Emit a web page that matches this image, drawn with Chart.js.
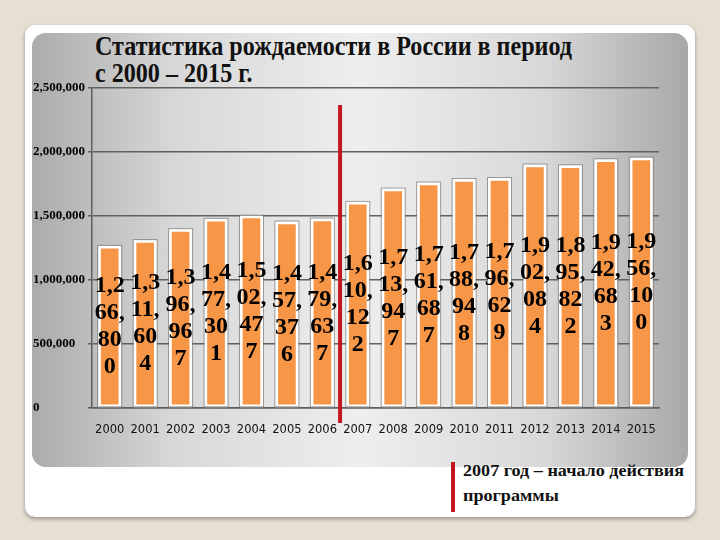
<!DOCTYPE html>
<html>
<head>
<meta charset="utf-8">
<script src="https://cdn.jsdelivr.net/npm/chart.js@4.4.1/dist/chart.umd.min.js"></script>
<style>
  html, body { margin: 0; padding: 0; }
  body { width: 720px; height: 540px; background: #e6dfd4; position: relative; overflow: hidden; }
  .card { position: absolute; left: 25px; top: 25px; width: 670px; height: 492px; background: #fff;
          border-radius: 10px; box-shadow: 0 2px 4px rgba(0,0,0,0.35); }
  .panel { position: absolute; left: 32px; top: 33px; width: 656px; height: 434px; border-radius: 14px;
           background: linear-gradient(to right, #ababab 0%, #d8d8d8 22%, #eeeeee 50%, #d8d8d8 78%, #a8a8a8 100%); }
  #chart { position: absolute; left: 0; top: 0; }
  .title { position: absolute; left: 95px; top: 33px; font-family: "Liberation Serif", serif; font-weight: bold;
           font-size: 27px; line-height: 27px; color: #111; white-space: nowrap; transform-origin: 0 0; }
  .note-bar { position: absolute; left: 451px; top: 462px; width: 4px; height: 50px; background: #c0181e; }
  .note { position: absolute; left: 463px; top: 458px; font-family: "Liberation Serif", serif; font-weight: bold;
          font-size: 16px; line-height: 25px; color: #111; white-space: nowrap; transform-origin: 0 0; }
</style>
</head>
<body>
<div class="card"></div>
<div class="panel"></div>
<div class="title" id="title">Статистика рождаемости в России в период<br>с 2000 – 2015 г.</div>
<div class="note-bar"></div>
<div class="note" id="note">2007 год – начало действия<br>программы</div>
<canvas id="chart" width="720" height="540"></canvas>
<script>
var years = ['2000', '2001', '2002', '2003', '2004', '2005', '2006', '2007',
             '2008', '2009', '2010', '2011', '2012', '2013', '2014', '2015'];
var births = [1266800, 1311604, 1396967, 1477301, 1502477, 1457376, 1479637, 1610122,
              1713947, 1761687, 1788948, 1796629, 1902084, 1895822, 1942683, 1956100];
var yTicks = [0, 500000, 1000000, 1500000, 2000000, 2500000];
var programStart = '2007';

// squeeze the title text to the narrow look of the original
function fitWidth(id, target) {
    var el = document.getElementById(id);
    var w = el.getBoundingClientRect().width;
    el.style.transform = 'scaleX(' + (target / w) + ')';
}
fitWidth('title', 477);
fitWidth('note', 221);

function splitLabel(v) {
    var s = v.toLocaleString('en-US');
    return [s.slice(0, 3), s.slice(3, 6), s.slice(6, 8), s.slice(8)];
}

var barLabels = {
    id: 'barLabels',
    afterDatasetsDraw: function(chart) {
        var ctx = chart.ctx;
        var meta = chart.getDatasetMeta(0);
        ctx.save();
        // thin grey edge round each bar
        ctx.strokeStyle = 'rgba(90,90,90,0.55)';
        ctx.lineWidth = 1;
        meta.data.forEach(function(bar) {
            var w = bar.width;
            ctx.strokeRect(bar.x - w / 2 - 0.5, bar.y - 0.5, w + 1, bar.base - bar.y);
        });
        ctx.fillStyle = '#000';
        ctx.font = 'bold 24px "Liberation Serif", serif';
        ctx.textAlign = 'center';
        ctx.textBaseline = 'middle';
        meta.data.forEach(function(bar, i) {
            var lines = splitLabel(births[i]);
            var mid = (bar.y + bar.base) / 2;
            var lh = 27;
            var y0 = mid - (lines.length - 1) * lh / 2;
            lines.forEach(function(t, k) {
                ctx.fillText(t, bar.x, y0 + k * lh);
            });
        });
        ctx.restore();
    },
    afterDraw: function(chart) {
        // red marker between 2006 and 2007
        var x = chart.scales.x;
        var area = chart.chartArea;
        var i = years.indexOf(programStart);
        var px = (x.getPixelForValue(i - 1) + x.getPixelForValue(i)) / 2;
        var ctx = chart.ctx;
        ctx.save();
        ctx.strokeStyle = '#c0181e';
        ctx.lineWidth = 4;
        ctx.beginPath();
        ctx.moveTo(px, area.top + 17);
        ctx.lineTo(px, area.bottom + 15);
        ctx.stroke();
        ctx.restore();
    }
};

new Chart(document.getElementById('chart'), {
    type: 'bar',
    data: {
        labels: years,
        datasets: [{
            data: births,
            backgroundColor: '#f79646',
            borderColor: '#ffffff',
            borderWidth: 3,
            borderSkipped: false,
            barThickness: 23
        }]
    },
    options: {
        responsive: false,
        animation: false,
        layout: { padding: { left: 33, right: 61, top: 88, bottom: 107 } },
        plugins: { legend: { display: false }, tooltip: { enabled: false } },
        scales: {
            x: {
                grid: { display: false },
                border: { color: '#5e5e5e', width: 1.5 },
                ticks: { color: '#111', padding: 7, font: { family: 'DejaVu Sans', size: 11.5 } },
                afterFit: function(s) { s.height = 25; }
            },
            y: {
                min: 0,
                max: 2500000,
                afterBuildTicks: function(s) { s.ticks = yTicks.map(function(v) { return { value: v }; }); },
                grid: { color: '#606060', lineWidth: 1.5, tickLength: 4 },
                border: { color: '#5e5e5e', width: 1.5 },
                ticks: {
                    crossAlign: 'far',
                    color: '#000',
                    padding: 2,
                    font: { family: 'Liberation Serif', size: 13, weight: 'bold' },
                    callback: function(v) { return v.toLocaleString('en-US'); }
                },
                afterFit: function(s) { s.width = 59; }
            }
        }
    },
    plugins: [barLabels]
});
</script>
</body>
</html>
